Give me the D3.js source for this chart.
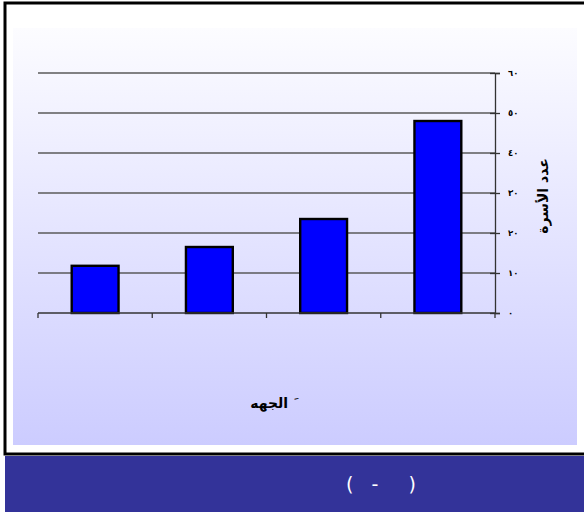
<!DOCTYPE html>
<html lang="ar">
<head>
<meta charset="UTF-8">
<title>عدد الأسرة حسب الجهه</title>
<script src="https://cdnjs.cloudflare.com/ajax/libs/d3/7.8.5/d3.min.js"></script>
<style>
  html, body { margin: 0; padding: 0; background: #fff; }
  svg { display: block; }
</style>
</head>
<body>
<svg id="chart" width="584" height="512"></svg>
<script>
// chart data
const categories = ["a", "b", "c", "d"];
const values = [11.8, 16.5, 23.5, 48];
const yTicks = [0, 10, 20, 30, 40, 50, 60];
const yTitle = "عدد الأسرة";
const xTitle = "\u00a0\u064e\u00a0الجهه";
const footerText = "(\u00a0\u00a0\u00a0-\u00a0\u00a0\u00a0\u00a0\u00a0)";

const svg = d3.select("#chart");

// background gradient
const defs = svg.append("defs");
const grad = defs.append("linearGradient")
    .attr("id", "bg").attr("x1", 0).attr("y1", 0).attr("x2", 0).attr("y2", 1);
grad.append("stop").attr("offset", "0%").attr("stop-color", "#fcfcff");
grad.append("stop").attr("offset", "100%").attr("stop-color", "#ccccff");

// outer frame
svg.append("rect")
    .attr("x", 5).attr("y", 3).attr("width", 590).attr("height", 451)
    .attr("fill", "#fff").attr("stroke", "#000").attr("stroke-width", 3);

svg.append("rect")
    .attr("x", 13).attr("y", 28).attr("width", 564).attr("height", 417)
    .attr("fill", "url(#bg)");

// footer band
svg.append("rect")
    .attr("x", 5).attr("y", 456).attr("width", 579).attr("height", 56)
    .attr("fill", "#333399");
svg.append("text")
    .attr("x", 381).attr("y", 491)
    .attr("text-anchor", "middle")
    .attr("fill", "#fff")
    .attr("font-family", "DejaVu Sans")
    .attr("font-size", 19)
    .text(footerText);

// plot area
const plotL = 38, plotR = 495, plotT = 73, plotB = 313;

const x = d3.scaleBand().domain(categories).range([plotL, plotR]).paddingInner(0.59).paddingOuter(0.295);
const y = d3.scaleLinear().domain([0, 60]).range([plotB, plotT]);

const toArabic = n => String(n).replace(/[0-9]/g, d => "٠١٢٣٤٥٦٧٨٩"[d]);

// gridlines
svg.append("g")
    .selectAll("line")
    .data(yTicks.filter(d => d > 0))
    .join("line")
    .attr("x1", plotL).attr("x2", plotR)
    .attr("y1", d => y(d)).attr("y2", d => y(d))
    .attr("stroke", "#5a5a5a").attr("stroke-width", 1.3);

// bars
svg.append("g")
    .selectAll("rect")
    .data(values)
    .join("rect")
    .attr("x", (d, i) => x(categories[i]))
    .attr("y", d => y(d))
    .attr("width", x.bandwidth())
    .attr("height", d => plotB - y(d))
    .attr("fill", "#0000ff")
    .attr("stroke", "#000")
    .attr("stroke-width", 2.4);

// x axis with ticks at category boundaries
const xAxisG = svg.append("g").attr("transform", `translate(0,${plotB})`);
xAxisG.append("line")
    .attr("x1", plotL).attr("x2", plotR).attr("y1", 0).attr("y2", 0)
    .attr("stroke", "#333").attr("stroke-width", 1.3);
const step = x.step();
xAxisG.selectAll("line.tick")
    .data(d3.range(categories.length + 1))
    .join("line")
    .attr("class", "tick")
    .attr("x1", i => plotL + i * step).attr("x2", i => plotL + i * step)
    .attr("y1", 0).attr("y2", 5)
    .attr("stroke", "#333").attr("stroke-width", 1.3);

// right y axis
const yAxis = d3.axisRight(y)
    .tickValues(yTicks)
    .tickSize(5)
    .tickPadding(8)
    .tickFormat(toArabic);
const yAxisG = svg.append("g")
    .attr("transform", `translate(${plotR},0)`)
    .call(yAxis);
yAxisG.select(".domain").attr("stroke", "#333").attr("stroke-width", 1.3);
yAxisG.selectAll(".tick line").attr("stroke", "#333").attr("stroke-width", 1.3)
    .attr("x1", -5);
yAxisG.selectAll(".tick text")
    .attr("font-family", "DejaVu Sans")
    .attr("font-size", 8.5)
    .attr("font-weight", "bold")
    .attr("fill", "#000");

// axis titles
svg.append("text")
    .attr("transform", `translate(548,196) rotate(-90)`)
    .attr("text-anchor", "middle")
    .attr("font-family", "DejaVu Sans")
    .attr("font-size", 14)
    .attr("font-weight", "bold")
    .attr("fill", "#000")
    .text(yTitle);

svg.append("text")
    .attr("x", 274).attr("y", 408)
    .attr("text-anchor", "middle")
    .attr("direction", "rtl")
    .attr("font-family", "DejaVu Sans")
    .attr("font-size", 14)
    .attr("font-weight", "bold")
    .attr("fill", "#000")
    .text(xTitle);
</script>
</body>
</html>
